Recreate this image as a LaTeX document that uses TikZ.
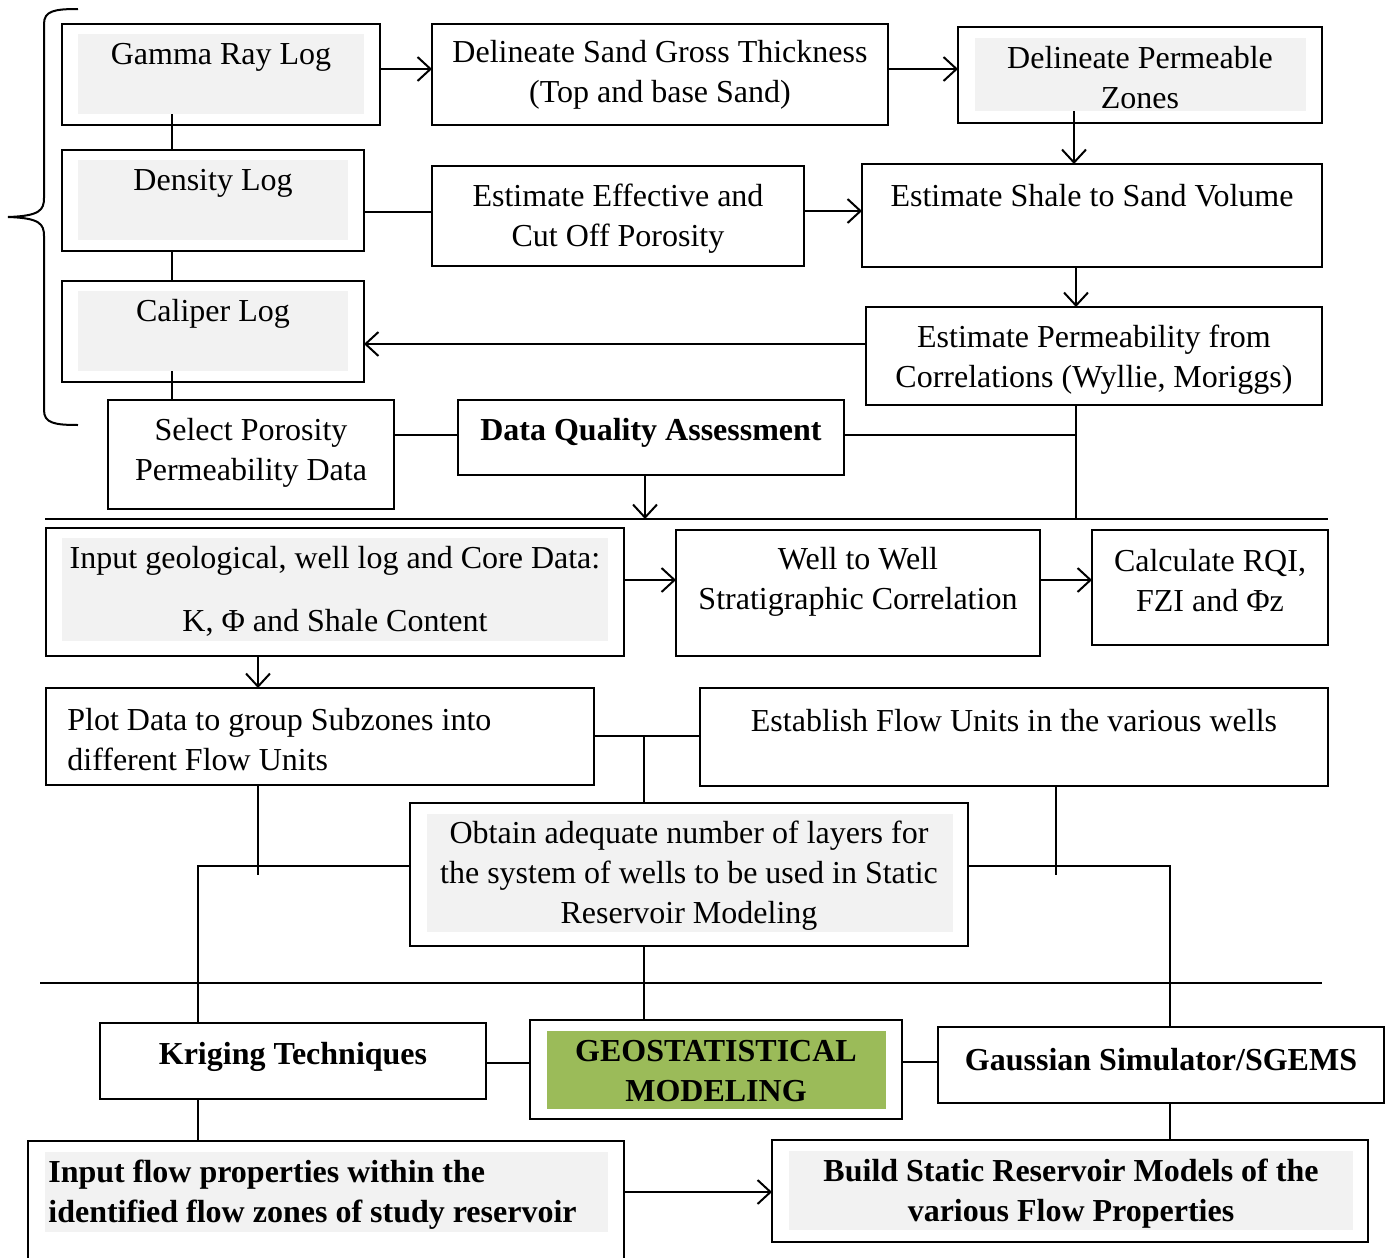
\documentclass[tikz,border=0pt]{standalone}
\usepackage{fontspec}
\setmainfont{Liberation Serif}
\usetikzlibrary{arrows.meta,fit}
\definecolor{bgray}{HTML}{F2F2F2}
\definecolor{geogreen}{HTML}{9BBB59}
\begin{document}
\begin{tikzpicture}[x=0.5pt,y=-0.5pt,
  box/.style={draw, line width=1.1pt, inner sep=0pt, outer sep=0pt, rectangle},
  bgbox/.style={fill=bgray, inner sep=0pt, outer sep=0pt, rectangle},
  txt/.style={font=\fontsize{16}{20}\selectfont, align=center, inner sep=0pt},
  btxt/.style={font=\fontsize{16}{20}\selectfont\bfseries, align=center, inner sep=0pt},
  conn/.style={line width=1pt},
  arr/.style={line width=1pt, -{Straight Barb[length=6.5pt,width=12pt,line width=1pt]}}]
\useasboundingbox (0,0) rectangle (1388,1258);
% ---------- boxes ----------
\node[box, fit={(62,24) (380,125)}] (gamma) {};
\node[bgbox, fit={(78,34) (364,114)}] (gammaBg) {};
\node[box, fit={(432,24) (888,125)}] (dsand) {};
\node[box, fit={(958,27) (1322,123)}] (dperm) {};
\node[bgbox, fit={(975,38) (1306,111)}] (dpermBg) {};
\node[box, fit={(62,150) (364,251)}] (dens) {};
\node[bgbox, fit={(78,160) (348,240)}] (densBg) {};
\node[box, fit={(432,166) (804,266)}] (effp) {};
\node[box, fit={(862,164) (1322,267)}] (shale) {};
\node[box, fit={(62,281) (364,382)}] (cal) {};
\node[bgbox, fit={(78,291) (348,371)}] (calBg) {};
\node[box, fit={(866,307) (1322,405)}] (perm) {};
\node[box, fit={(108,400) (394,509)}] (sel) {};
\node[box, fit={(458,400) (844,475)}] (dqa) {};
\node[box, fit={(46,528) (624,656)}] (inp) {};
\node[bgbox, fit={(62,538) (608,641)}] (inpBg) {};
\node[box, fit={(676,530) (1040,656)}] (well) {};
\node[box, fit={(1092,530) (1328,645)}] (rqi) {};
\node[box, fit={(46,688) (594,785)}] (plot) {};
\node[box, fit={(700,688) (1328,786)}] (estf) {};
\node[box, fit={(410,803) (968,946)}] (obt) {};
\node[bgbox, fit={(427,814) (953,932)}] (obtBg) {};
\node[box, fit={(100,1023) (486,1099)}] (krig) {};
\node[box, line width=1.4pt, fit={(530,1020) (902,1119)}] (geo) {};
\node[fill=geogreen, inner sep=0pt, outer sep=0pt, fit={(547,1031) (886,1109)}] (geoBg) {};
\node[box, fit={(938,1027) (1384,1103)}] (gaus) {};
\node[box, fit={(28,1141) (624,1280)}] (inf) {};
\node[bgbox, fit={(45,1152) (608,1232)}] (infBg) {};
\node[box, fit={(772,1140) (1368,1242)}] (bld) {};
\node[bgbox, fit={(789,1151) (1353,1230)}] (bldBg) {};
% ---------- texts ----------
\node[txt] (gammaT) at (221,57) {Gamma Ray Log};
\node[txt] (dsandT) at (660,75) {Delineate Sand Gross Thickness\\(Top and base Sand)};
\node[txt] (dpermT) at (1140,78) {Delineate Permeable\\Zones};
\node[txt] (densT) at (213,183) {Density Log};
\node[txt] (effpT) at (618,219) {Estimate Effective and\\Cut Off Porosity};
\node[txt] (shaleT) at (1092,196) {Estimate Shale to Sand Volume};
\node[txt] (calT) at (213,314) {Caliper Log};
\node[txt] (permT) at (1094,360) {Estimate Permeability from\\Correlations (Wyllie, Moriggs)};
\node[txt] (selT) at (251,453) {Select Porosity\\Permeability Data};
\node[btxt] (dqaT) at (651,433) {Data Quality Assessment};
\node[txt] (inpT) at (335,591) {Input geological, well log and Core Data:\\[11.5pt]K, Φ and Shale Content};
\node[txt] (wellT) at (858,582) {Well to Well\\Stratigraphic Correlation};
\node[txt] (rqiT) at (1210,581) {Calculate RQI,\\FZI and Φz};
\node[txt, align=left, anchor=west] (plotT) at (67,740) {Plot Data to group Subzones into\\different Flow Units};
\node[txt] (estfT) at (1014,721) {Establish Flow Units in the various wells};
\node[txt] (obtT) at (689,876) {Obtain adequate number of layers for\\the system of wells to be used in Static\\Reservoir Modeling};
\node[btxt] (krigT) at (293,1057) {Kriging Techniques};
\node[btxt] (geoT) at (716,1071) {GEOSTATISTICAL\\MODELING};
\node[btxt] (gausT) at (1161,1060) {Gaussian Simulator/SGEMS};
\node[btxt, align=left, anchor=west] (infT) at (48,1195) {Input flow properties within the\\identified flow zones of study reservoir};
\node[btxt] (bldT) at (1071,1194) {Build Static Reservoir Models of the\\various Flow Properties};
% ---------- brace ----------
\draw[line width=1pt] (78,9) .. controls (54,9) and (44,11) .. (44,24) -- (44,198)
  .. controls (44,210) and (40,216) .. (8,217)
  .. controls (40,218) and (44,224) .. (44,236) -- (44,410)
  .. controls (44,423) and (54,425) .. (78,425);
% ---------- separators ----------
\draw[line width=1pt] (45,519) -- (1328,519);
\draw[line width=1pt] (40,983) -- (1322,983);
% ---------- coordinates ----------
\coordinate (j1) at (1076,435);
\coordinate (s1) at (1076,519);
\coordinate (dqaEnd) at (645,519);
\coordinate (j2) at (644,736);
\coordinate (e1) at (1056,875);
\coordinate (e2) at (258,875);
\coordinate (k1) at (198,866);
\coordinate (g1) at (1170,866);
% ---------- connectors ----------
\draw[arr] (gamma.east |- 0,69) -- (dsand.west |- 0,69);
\draw[arr] (dsand.east |- 0,69) -- (dperm.west |- 0,69);
\draw[arr] (dpermBg.south -| 1074,0) -- (shale.north -| 1074,0);
\draw[conn] (gammaBg.south -| 172,0) -- (dens.north -| 172,0);
\draw[conn] (dens.east |- 0,212) -- (effp.west |- 0,212);
\draw[arr] (effp.east |- 0,211) -- (shale.west |- 0,211);
\draw[arr] (shale.south -| 1076,0) -- (perm.north -| 1076,0);
\draw[arr] (perm.west |- 0,344) -- (cal.east |- 0,344);
\draw[conn] (dens.south -| 172,0) -- (cal.north -| 172,0);
\draw[conn] (calBg.south -| 172,0) -- (sel.north -| 172,0);
\draw[conn] (sel.east |- 0,435) -- (dqa.west |- 0,435);
\draw[conn] (dqa.east |- j1) -- (j1);
\draw[conn] (perm.south -| s1) -- (s1);
\draw[arr] (dqa.south -| dqaEnd) -- (dqaEnd);
\draw[arr] (inp.east |- 0,580) -- (well.west |- 0,580);
\draw[arr] (well.east |- 0,580) -- (rqi.west |- 0,580);
\draw[arr] (inp.south -| 258,0) -- (plot.north -| 258,0);
\draw[conn] (plot.east |- j2) -- (estf.west |- j2);
\draw[conn] (j2) -- (obt.north -| j2);
\draw[conn] (estf.south -| e1) -- (e1);
\draw[conn] (plot.south -| e2) -- (e2);
\draw[conn] (obt.west |- k1) -- (k1) -- (krig.north -| k1);
\draw[conn] (obt.east |- g1) -- (g1) -- (gaus.north -| g1);
\draw[conn] (obt.south -| 644,0) -- (geo.north -| 644,0);
\draw[conn] (krig.east |- 0,1063) -- (geo.west |- 0,1063);
\draw[conn] (geo.east |- 0,1062) -- (gaus.west |- 0,1062);
\draw[conn] (krig.south -| 198,0) -- (inf.north -| 198,0);
\draw[conn] (gaus.south -| 1170,0) -- (bld.north -| 1170,0);
\draw[arr] (inf.east |- 0,1192) -- (bld.west |- 0,1192);
\end{tikzpicture}
\end{document}
